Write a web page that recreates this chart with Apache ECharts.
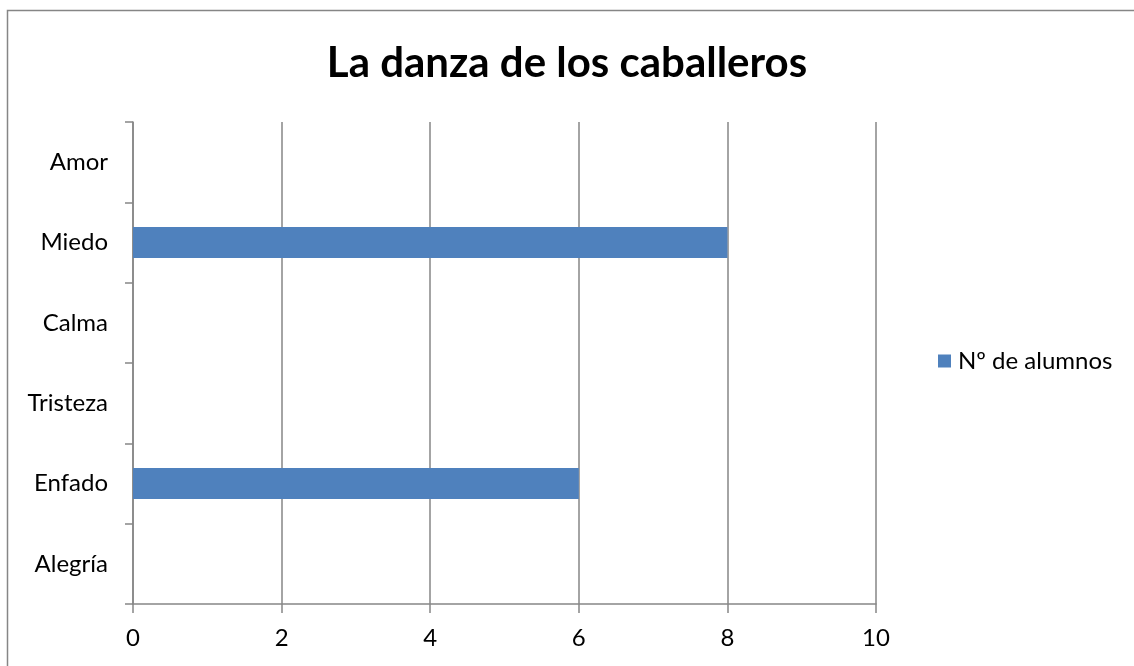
<!DOCTYPE html>
<html>
<head>
<meta charset="utf-8">
<script src="https://cdn.jsdelivr.net/npm/echarts@6/dist/echarts.min.js"></script>
<style>
html,body{margin:0;padding:0;background:#fff;}
#chart{width:1134px;height:666px;}
</style>
</head>
<body>
<div id="chart"></div>
<script>
// datos del gráfico
const categories = ['Alegría', 'Enfado', 'Tristeza', 'Calma', 'Miedo', 'Amor'];
const alumnos = [0, 6, 0, 0, 8, 0];
const seriesName = 'Nº de alumnos';
const titleText = 'La danza de los caballeros';

const fontFam = 'Lato, "Open Sans", sans-serif';
let myChart = echarts.init(document.getElementById('chart'));
let option = {
    backgroundColor: '#fff',
    animation: false,
    title: {
        text: titleText,
        left: 'center',
        top: 37,
        textStyle: { fontFamily: fontFam, fontSize: 42, fontWeight: 'bold', color: '#000' }
    },
    graphic: [{
        type: 'rect',
        shape: { x: 7.5, y: 10.5, width: 1140, height: 680 },
        style: { fill: 'none', stroke: '#868686', lineWidth: 1.5 },
        silent: true
    }],
    legend: {
        data: [seriesName],
        left: 933,
        top: 344,
        itemWidth: 13,
        itemHeight: 13,
        itemGap: 5,
        icon: 'rect',
        textStyle: { fontFamily: fontFam, fontSize: 24, color: '#000', padding: [0, 0, 0, 2] }
    },
    grid: { left: 133, right: 258, top: 122, bottom: 62 },
    xAxis: {
        type: 'value',
        min: 0,
        max: 10,
        interval: 2,
        axisLine: { show: true, lineStyle: { color: '#868686', width: 1.5 } },
        axisTick: { show: true, length: 9, lineStyle: { color: '#868686', width: 1.5 } },
        splitLine: { show: true, lineStyle: { color: '#868686', width: 1.5 } },
        axisLabel: { fontFamily: fontFam, fontSize: 24, color: '#000', margin: 22 }
    },
    yAxis: {
        type: 'category',
        data: categories,
        axisLine: { show: true, lineStyle: { color: '#868686', width: 1.5 } },
        axisTick: { show: true, length: 8, lineStyle: { color: '#868686', width: 1.5 } },
        axisLabel: { fontFamily: fontFam, fontSize: 24, color: '#000', margin: 25 }
    },
    series: [{
        name: seriesName,
        type: 'bar',
        data: alumnos,
        barWidth: 31,
        itemStyle: { color: '#4F81BD' }
    }]
};
myChart.setOption(option);
</script>
</body>
</html>
